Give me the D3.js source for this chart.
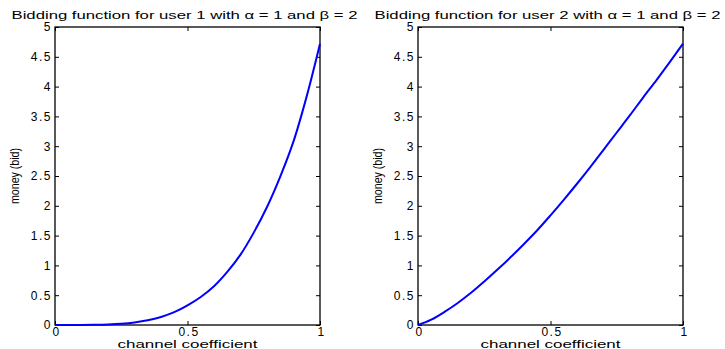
<!DOCTYPE html>
<html>
<head>
<meta charset="utf-8">
<script src="https://cdn.jsdelivr.net/npm/d3@7"></script>
<style>
  body { margin: 0; background: #fff; }
  text { font-family: "Liberation Sans", Arial, sans-serif; }
</style>
</head>
<body>
<div id="chart"></div>
<script>
// values
const xs = [0, 0.05, 0.1, 0.15, 0.2, 0.25, 0.3, 0.35, 0.4, 0.45, 0.5,
            0.55, 0.6, 0.65, 0.7, 0.75, 0.8, 0.85, 0.9, 0.95, 1];
const bidUser1 = [0, 0, 0.001, 0.003, 0.009, 0.021, 0.043, 0.079, 0.135, 0.215, 0.33,
                  0.47, 0.65, 0.89, 1.18, 1.55, 1.98, 2.49, 3.08, 3.84, 4.72];
const bidUser2 = [0, 0.09, 0.22, 0.37, 0.54, 0.73, 0.93, 1.14, 1.36, 1.59, 1.84,
                  2.10, 2.37, 2.65, 2.94, 3.23, 3.52, 3.82, 4.11, 4.41, 4.72];
const titles = [
    "Bidding function for user 1 with \u03b1 = 1 and \u03b2 = 2",
    "Bidding function for user 2 with \u03b1 = 1 and \u03b2 = 2"
];
const xTicks = [0, 0.5, 1];
const yTicks = [0, 0.5, 1, 1.5, 2, 2.5, 3, 3.5, 4, 4.5, 5];

const W = 725, H = 349;
const panels = [
    {left: 55, series: bidUser1, title: titles[0]},
    {left: 418, series: bidUser2, title: titles[1]}
];
const plotW = 265, plotTop = 27, plotBottom = 325;

const svg = d3.select("#chart").append("svg")
    .attr("width", W)
    .attr("height", H);

panels.forEach(p => {
    const x = d3.scaleLinear().domain([0, 1]).range([p.left, p.left + plotW]);
    const y = d3.scaleLinear().domain([0, 5]).range([plotBottom, plotTop]);

    const g = svg.append("g");

    // bottom axis with labels, ticks pointing in
    const xAx = g.append("g")
        .attr("transform", "translate(0," + plotBottom + ")")
        .call(d3.axisBottom(x).tickValues(xTicks).tickSizeInner(-4).tickSizeOuter(0).tickPadding(2)
            .tickFormat(d3.format("")))
        .call(a => a.select(".domain").remove());
    xAx.selectAll(".tick text").attr("dx", 1);

    // left axis
    g.append("g")
        .attr("transform", "translate(" + p.left + ",0)")
        .call(d3.axisLeft(y).tickValues(yTicks).tickSizeInner(-4).tickSizeOuter(0).tickPadding(3)
            .tickFormat(d3.format("")))
        .call(a => a.select(".domain").remove());

    // top and right: ticks only
    g.append("g")
        .attr("transform", "translate(0," + plotTop + ")")
        .call(d3.axisTop(x).tickValues(xTicks).tickSizeInner(-4).tickSizeOuter(0).tickFormat(""))
        .call(a => a.select(".domain").remove());
    g.append("g")
        .attr("transform", "translate(" + (p.left + plotW) + ",0)")
        .call(d3.axisRight(y).tickValues(yTicks).tickSizeInner(-4).tickSizeOuter(0).tickFormat(""))
        .call(a => a.select(".domain").remove());

    g.selectAll(".tick text")
        .attr("font-family", "Liberation Sans, Arial, sans-serif")
        .attr("font-size", 12)
        .attr("letter-spacing", "1.5px")
        .attr("fill", "#000");
    g.selectAll(".tick line").attr("stroke", "#000");

    // box
    g.append("rect")
        .attr("x", p.left)
        .attr("y", plotTop)
        .attr("width", plotW)
        .attr("height", plotBottom - plotTop)
        .attr("fill", "none")
        .attr("stroke", "#000")
        .attr("stroke-width", 1.3);

    // curve
    const line = d3.line()
        .x((d, i) => x(xs[i]))
        .y(d => y(d))
        .curve(d3.curveCatmullRom.alpha(0.5));
    g.append("path")
        .datum(p.series)
        .attr("d", line)
        .attr("fill", "none")
        .attr("stroke", "#0000ff")
        .attr("stroke-width", 2);

    // title
    g.append("text")
        .attr("x", p.left + plotW / 2 - 3)
        .attr("y", 19)
        .attr("text-anchor", "middle")
        .attr("textLength", 346)
        .attr("lengthAdjust", "spacingAndGlyphs")
        .style("font-size", "11px")
        .text(p.title);

    // x label
    g.append("text")
        .attr("x", p.left + plotW / 2)
        .attr("y", 348)
        .attr("text-anchor", "middle")
        .attr("textLength", 140)
        .attr("lengthAdjust", "spacingAndGlyphs")
        .style("font-size", "11px")
        .text("channel coefficient");

    // y label
    g.append("text")
        .attr("transform", "rotate(-90)")
        .attr("x", -(plotTop + plotBottom) / 2)
        .attr("y", p.left - 36)
        .attr("text-anchor", "middle")
        .attr("textLength", 56)
        .attr("lengthAdjust", "spacingAndGlyphs")
        .style("font-size", "12px")
        .text("money (bid)");
});
</script>
</body>
</html>
